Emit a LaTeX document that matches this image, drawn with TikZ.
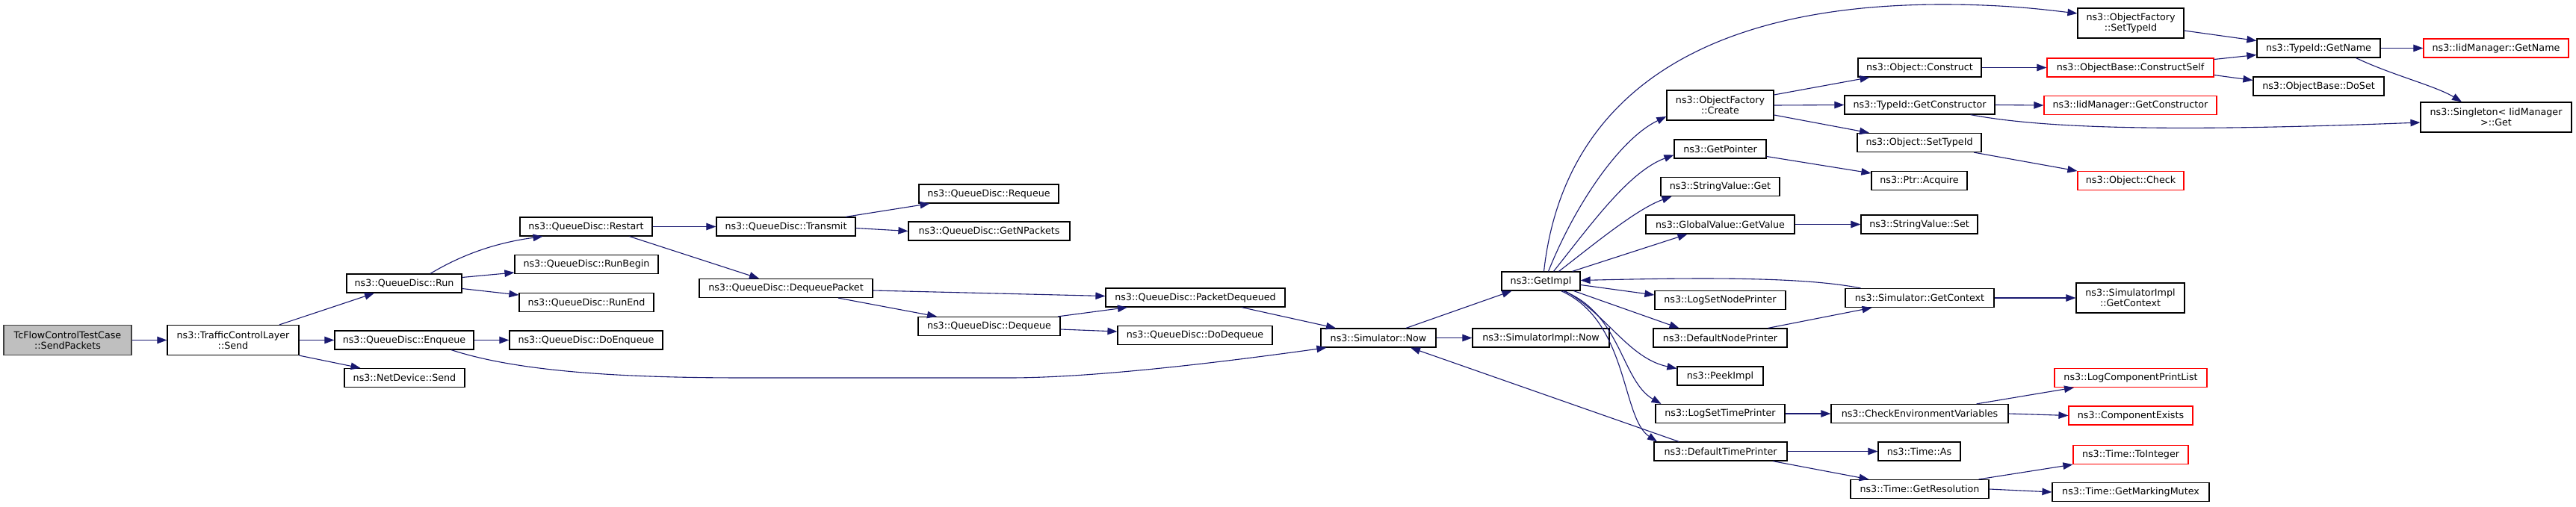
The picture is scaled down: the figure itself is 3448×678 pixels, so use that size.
\documentclass[tikz,border=0pt]{standalone}
\usepackage{fontspec}
\setmainfont{DejaVu Sans}
\usetikzlibrary{arrows.meta}
\definecolor{edgeblue}{HTML}{191970}
\definecolor{rootgray}{HTML}{BFBFBF}
\begin{document}
\begin{tikzpicture}[x=1pt,y=-1pt,
  nd/.style={draw=black, line width=1.2pt, fill=white, minimum height=25pt, inner sep=0pt, font=\fontsize{12.7}{14}\selectfont, align=center},
  nd2/.style={nd, minimum height=40pt},
  undoc/.style={draw=red},
  e/.style={draw=edgeblue, line width=1.1pt, -{Triangle[length=13pt,width=9.5pt]}}]
\fill[white] (0,0) rectangle (3448,678);
\useasboundingbox (0,0) rectangle (3448,678);

% nodes
\node[nd2, fill=rootgray, draw=black!75, minimum width=171pt] (sp) at (90.5,455.5) {TcFlowControlTestCase\\::SendPackets};
\node[nd2, minimum width=176pt] (tcl) at (312,455.5) {ns3::TrafficControlLayer\\::Send};
\node[nd, minimum width=154pt] (run) at (541,379.5) {ns3::QueueDisc::Run};
\node[nd, minimum width=186pt] (enq) at (541,455.5) {ns3::QueueDisc::Enqueue};
\node[nd, minimum width=161pt] (nds) at (541.5,506) {ns3::NetDevice::Send};
\node[nd, minimum width=177pt] (restart) at (784.5,303.5) {ns3::QueueDisc::Restart};
\node[nd, minimum width=192pt] (runbegin) at (785,354) {ns3::QueueDisc::RunBegin};
\node[nd, minimum width=180pt] (runend) at (785,405) {ns3::QueueDisc::RunEnd};
\node[nd, minimum width=205pt] (doenq) at (784.5,455.5) {ns3::QueueDisc::DoEnqueue};
\node[nd, minimum width=186pt] (transmit) at (1052,303.5) {ns3::QueueDisc::Transmit};
\node[nd, minimum width=232pt] (dqp) at (1052,386) {ns3::QueueDisc::DequeuePacket};
\node[nd, minimum width=187pt] (requeue) at (1323.5,259.5) {ns3::QueueDisc::Requeue};
\node[nd, minimum width=216pt] (getn) at (1324,309.5) {ns3::QueueDisc::GetNPackets};
\node[nd, minimum width=190pt] (dequeue) at (1324,437) {ns3::QueueDisc::Dequeue};
\node[nd, minimum width=240pt] (pdq) at (1600,398.5) {ns3::QueueDisc::PacketDequeued};
\node[nd, minimum width=207pt] (dodeq) at (1599.5,449) {ns3::QueueDisc::DoDequeue};
\node[nd, minimum width=154pt] (snow) at (1845,452.5) {ns3::Simulator::Now};
\node[nd, minimum width=105pt] (getimpl) at (2062.5,376.5) {ns3::GetImpl};
\node[nd, minimum width=183pt] (simplnow) at (2062.5,452.5) {ns3::SimulatorImpl::Now};
\node[nd2, minimum width=142pt] (ofst) at (2852,31) {ns3::ObjectFactory\\::SetTypeId};
\node[nd2, minimum width=143pt] (ofc) at (2302.5,141) {ns3::ObjectFactory\\::Create};
\node[nd, minimum width=123pt] (getptr) at (2302.5,199.5) {ns3::GetPointer};
\node[nd, minimum width=159pt] (svget) at (2302.5,250) {ns3::StringValue::Get};
\node[nd, minimum width=199pt] (gvgv) at (2302.5,300.5) {ns3::GlobalValue::GetValue};
\node[nd, minimum width=175pt] (lsnp) at (2302.5,402) {ns3::LogSetNodePrinter};
\node[nd, minimum width=179pt] (dnp) at (2302.5,452.5) {ns3::DefaultNodePrinter};
\node[nd, minimum width=115pt] (peek) at (2302.5,503.5) {ns3::PeekImpl};
\node[nd, minimum width=173pt] (lstp) at (2302.5,554) {ns3::LogSetTimePrinter};
\node[nd, minimum width=178pt] (dtp) at (2303,604.5) {ns3::DefaultTimePrinter};
\node[nd, minimum width=165pt] (oconstruct) at (2569.5,90.5) {ns3::Object::Construct};
\node[nd, minimum width=201pt] (tgc) at (2569.5,140.5) {ns3::TypeId::GetConstructor};
\node[nd, minimum width=166pt] (ost) at (2569,191) {ns3::Object::SetTypeId};
\node[nd, minimum width=128pt] (ptracq) at (2569,242) {ns3::Ptr::Acquire};
\node[nd, minimum width=156pt] (svset) at (2569,300.5) {ns3::StringValue::Set};
\node[nd, minimum width=199pt] (sgc) at (2569.5,399) {ns3::Simulator::GetContext};
\node[nd, minimum width=237pt] (cev) at (2569.5,554) {ns3::CheckEnvironmentVariables};
\node[nd, minimum width=110pt] (tas) at (2569,604.5) {ns3::Time::As};
\node[nd, minimum width=185pt] (tgr) at (2569.5,655) {ns3::Time::GetResolution};
\node[nd, undoc, minimum width=223pt] (cself) at (2851.5,90.5) {ns3::ObjectBase::ConstructSelf};
\node[nd, undoc, minimum width=231pt] (igc) at (2851.5,141) {ns3::IidManager::GetConstructor};
\node[nd, undoc, minimum width=142pt] (ocheck) at (2852,242) {ns3::Object::Check};
\node[nd2, minimum width=145pt] (sigc) at (2851.5,399) {ns3::SimulatorImpl\\::GetContext};
\node[nd, undoc, minimum width=204pt] (lcpl) at (2852,506) {ns3::LogComponentPrintList};
\node[nd, undoc, minimum width=166pt] (cex) at (2852,556.5) {ns3::ComponentExists};
\node[nd, undoc, minimum width=154pt] (toint) at (2852,609) {ns3::Time::ToInteger};
\node[nd, minimum width=210pt] (gmm) at (2852,659) {ns3::Time::GetMarkingMutex};
\node[nd, minimum width=165pt] (tgn) at (3103.5,64.5) {ns3::TypeId::GetName};
\node[nd, minimum width=175pt] (doset) at (3103.5,115.5) {ns3::ObjectBase::DoSet};
\node[nd, undoc, minimum width=194pt] (igname) at (3341,64.5) {ns3::IidManager::GetName};
\node[nd2, minimum width=202pt] (singleton) at (3341,157) {ns3::Singleton< IidManager\\>::Get};

% edges
\draw[e] (sp.east) -- (tcl.west);
\draw[e] ([xshift=62pt]tcl.north) -- ([xshift=-40pt]run.south);
\draw[e] (tcl.east) -- (enq.west);
\draw[e] (tcl.south east) -- ([xshift=-59pt]nds.north);
\draw[e] ([xshift=35pt]run.north) .. controls (620,340) and (665,325) .. ([xshift=-58pt]restart.south);
\draw[e] ([yshift=8pt]run.east) -- ([yshift=-11pt]runbegin.west);
\draw[e] ([yshift=-7pt]run.east) -- ([yshift=10pt]runend.west);
\draw[e] (enq.east) -- (doenq.west);
\draw[e] ([xshift=63pt]enq.south) .. controls (700,500) and (850,506) .. (1000,506) -- (1350,506) .. controls (1450,506) and (1600,490) .. ([xshift=8pt]snow.south west);
\draw[e] (restart.east) -- (transmit.west);
\draw[e] ([xshift=58pt]restart.south) -- ([xshift=-36pt]dqp.north);
\draw[e] ([xshift=80pt]transmit.north) -- ([xshift=-79pt]requeue.south);
\draw[e] ([yshift=-2pt]transmit.east) -- (getn.west);
\draw[e] ([yshift=-3pt]dqp.east) -- ([yshift=2pt]pdq.west);
\draw[e] ([xshift=70pt]dqp.south) -- ([xshift=-70pt]dequeue.north);
\draw[e] ([xshift=92pt]dequeue.north) -- ([xshift=-91pt]pdq.south);
\draw[e] ([yshift=-4pt]dequeue.east) -- ([yshift=5pt]dodeq.west);
\draw[e] ([xshift=62pt]pdq.south) -- ([xshift=-57pt]snow.north);
\draw[e] ([xshift=37pt]snow.north) -- ([xshift=-39pt]getimpl.south);
\draw[e] (snow.east) -- (simplnow.west);
\draw[e] ([xshift=4pt]getimpl.north) .. controls (2090,150) and (2250,6) .. (2600,6) .. controls (2680,6) and (2730,12) .. ([yshift=13pt]ofst.west);
\draw[e] ([xshift=10pt]getimpl.north) .. controls (2110,270) and (2170,185) .. ([yshift=-15pt]ofc.west);
\draw[e] ([xshift=17pt]getimpl.north) .. controls (2130,300) and (2180,230) .. ([yshift=-8pt]getptr.west);
\draw[e] ([xshift=24pt]getimpl.north) .. controls (2130,330) and (2190,280) .. ([xshift=-65pt]svget.south);
\draw[e] ([xshift=42pt]getimpl.north) -- ([xshift=-44pt]gvgv.south);
\draw[e] ([yshift=-5pt]getimpl.east) -- ([yshift=7pt]lsnp.west);
\draw[e] ([xshift=44pt]getimpl.south) -- ([xshift=-55pt]dnp.north);
\draw[e] ([xshift=32pt]getimpl.south) .. controls (2150,420) and (2180,480) .. ([yshift=10pt]peek.west);
\draw[e] ([xshift=30pt]getimpl.south) .. controls (2170,420) and (2170,510) .. ([xshift=-79pt]lstp.north);
\draw[e] ([xshift=27pt]getimpl.south) .. controls (2180,430) and (2170,560) .. ([xshift=-85pt]dtp.north);
\draw[e] ([xshift=-79pt]sgc.north) .. controls (2420,372) and (2300,371) .. ([yshift=1pt]getimpl.east);
\draw[e] ([xshift=64pt]dnp.north) -- ([xshift=-64pt]sgc.south);
\draw[e] ([xshift=-56pt]dtp.north) -- ([xshift=43pt]snow.south);
\draw[e] ([yshift=14pt]ofc.east) -- ([xshift=-67pt]oconstruct.south);
\draw[e] (ofc.east) -- (tgc.west);
\draw[e] ([yshift=-13pt]ofc.east) -- ([xshift=-67pt]ost.north);
\draw[e] ([yshift=-10pt]getptr.east) -- ([yshift=10pt]ptracq.west);
\draw[e] (gvgv.east) -- (svset.west);
\draw[e] ([yshift=-10pt]ofst.east) -- ([yshift=10pt]tgn.west);
\draw[e] (oconstruct.east) -- (cself.west);
\draw[e] ([yshift=11pt]cself.east) -- ([yshift=-9pt]tgn.west);
\draw[e] ([yshift=-10pt]cself.east) -- ([yshift=8pt]doset.west);
\draw[e] (tgc.east) -- (igc.west);
\draw[e] ([xshift=68pt]tgc.south) .. controls (2750,175) and (2950,175) .. ([yshift=-7pt]singleton.west);
\draw[e] ([xshift=73pt]ost.south) -- ([yshift=13pt]ocheck.west);
\draw[e] (tgn.east) -- (igname.west);
\draw[e] ([xshift=50pt]tgn.south) .. controls (3200,100) and (3260,115) .. ([xshift=-46pt]singleton.north);
\draw[e] (sgc.east) -- (sigc.west);
\draw[e] (lstp.east) -- (cev.west);
\draw[e] ([xshift=76pt]cev.north) -- ([xshift=-76pt]lcpl.south);
\draw[e] (cev.east) -- (cex.west);
\draw[e] (dtp.east) -- (tas.west);
\draw[e] ([xshift=70pt]dtp.south) -- ([xshift=-68pt]tgr.north);
\draw[e] ([xshift=79pt]tgr.north) -- (toint.south west);
\draw[e] (tgr.east) -- (gmm.west);
\end{tikzpicture}
\end{document}
